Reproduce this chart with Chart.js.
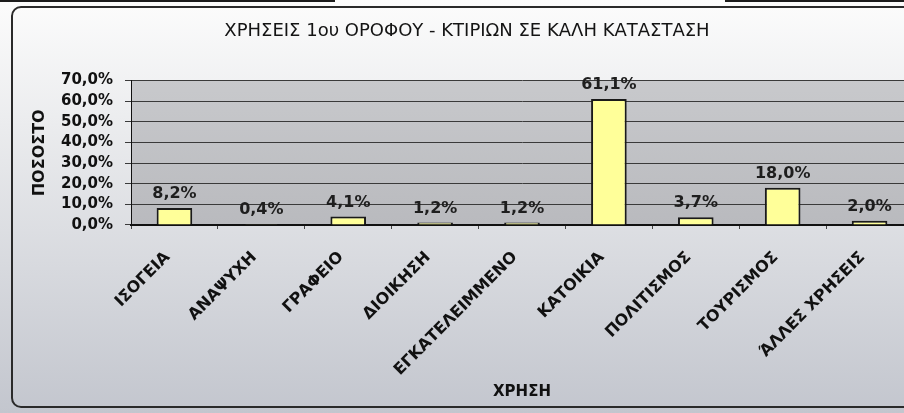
<!DOCTYPE html>
<html>
<head>
<meta charset="utf-8">
<script src="https://cdn.jsdelivr.net/npm/chart.js@4"></script>
<style>
  html, body { margin: 0; padding: 0; width: 904px; height: 413px; overflow: hidden; background: #ffffff; }
  canvas { position: absolute; left: 0; top: 0; }
</style>
</head>
<body>
<canvas id="chart" width="920" height="413"></canvas>
<script>
// Uses of the first floor in buildings in good condition
const categories = ['ΙΣΟΓΕΙΑ', 'ΑΝΑΨΥΧΗ', 'ΓΡΑΦΕΙΟ', 'ΔΙΟΙΚΗΣΗ', 'ΕΓΚΑΤΕΛΕΙΜΜΕΝΟ', 'ΚΑΤΟΙΚΙΑ', 'ΠΟΛΙΤΙΣΜΟΣ', 'ΤΟΥΡΙΣΜΟΣ', 'ΆΛΛΕΣ ΧΡΗΣΕΙΣ'];
const shares = [8.2, 0.4, 4.1, 1.2, 1.2, 61.1, 3.7, 18.0, 2.0];
const yTickValues = [0, 10, 20, 30, 40, 50, 60, 70];

const chartTitle = 'ΧΡΗΣΕΙΣ 1ου ΟΡΟΦΟΥ - ΚΤΙΡΙΩΝ ΣΕ ΚΑΛΗ ΚΑΤΑΣΤΑΣΗ';
const xTitle = 'ΧΡΗΣΗ';
const yTitle = 'ΠΟΣΟΣΤΟ';

const FONT = '"DejaVu Sans", Verdana, sans-serif';
const pctText = v => Number(v).toFixed(1).replace('.', ',') + '%';

// Page background, plot area fill and the rounded outer frame
const backdrop = {
  id: 'backdrop',
  beforeDraw(chart) {
    const { ctx, width, height, chartArea: a } = chart;
    ctx.save();
    const g = ctx.createLinearGradient(0, 0, 0, height);
    g.addColorStop(0, '#fcfcfc');
    g.addColorStop(0.3, '#ebecee');
    g.addColorStop(1, '#c3c6ce');
    ctx.fillStyle = g;
    ctx.fillRect(0, 0, width, height);

    const pg = ctx.createLinearGradient(0, a.top, 0, a.bottom);
    pg.addColorStop(0, '#c8c9cc');
    pg.addColorStop(1, '#b9babe');
    ctx.fillStyle = pg;
    ctx.fillRect(a.left, a.top, a.right - a.left, a.bottom - a.top);
    ctx.restore();
  },
  afterDraw(chart) {
    const { ctx, width, height } = chart;
    ctx.save();
    // dark rule along the very top
    ctx.strokeStyle = '#1c1c1c';
    ctx.lineWidth = 2;
    ctx.beginPath();
    ctx.moveTo(0, 1); ctx.lineTo(335, 1);
    ctx.moveTo(725, 1); ctx.lineTo(width, 1);
    ctx.stroke();

    const x0 = 12, y0 = 7, x1 = width + 20, y1 = height - 6, r = 9;
    ctx.strokeStyle = '#2a2a2a';
    ctx.lineWidth = 2;
    ctx.beginPath();
    ctx.moveTo(x1, y0);
    ctx.lineTo(x0 + r, y0);
    ctx.arcTo(x0, y0, x0, y0 + r, r);
    ctx.lineTo(x0, y1 - r);
    ctx.arcTo(x0, y1, x0 + r, y1, r);
    ctx.lineTo(x1, y1);
    ctx.stroke();
    ctx.restore();
  }
};

// Percentage written above each bar
const valueLabels = {
  id: 'valueLabels',
  afterDatasetsDraw(chart) {
    const { ctx } = chart;
    const meta = chart.getDatasetMeta(0);
    ctx.save();
    ctx.font = 'bold 16px ' + FONT;
    ctx.fillStyle = '#1e1e1e';
    ctx.textAlign = 'center';
    ctx.textBaseline = 'alphabetic';
    meta.data.forEach((bar, i) => {
      ctx.fillText(pctText(shares[i]), bar.x, bar.y - 10);
    });
    ctx.restore();
  }
};

new Chart(document.getElementById('chart'), {
  type: 'bar',
  data: {
    labels: categories,
    datasets: [{
      data: shares,
      backgroundColor: '#ffff99',
      borderColor: '#1a1a1a',
      borderWidth: 2,
      barPercentage: 0.41,
      categoryPercentage: 1
    }]
  },
  options: {
    responsive: false,
    animation: false,
    devicePixelRatio: 1,
    layout: { padding: { left: 21, right: 7, top: 0, bottom: 0 } },
    plugins: {
      legend: { display: false },
      tooltip: { enabled: false },
      title: {
        display: true,
        text: chartTitle,
        color: '#141414',
        font: { family: FONT, size: 18, weight: 'normal' },
        padding: { top: 21, bottom: 38 }
      }
    },
    scales: {
      x: {
        grid: { drawOnChartArea: false, drawTicks: true, tickLength: 4, color: '#444', offset: true },
        border: { color: '#111', width: 2 },
        ticks: {
          minRotation: 45, maxRotation: 45, autoSkip: false,
          padding: 19, labelOffset: -7,
          color: '#111',
          font: { family: FONT, size: 16, weight: 'bold' }
        },
        title: {
          display: true, text: xTitle, color: '#111',
          font: { family: FONT, size: 15, weight: 'bold' },
          padding: { top: 0, bottom: 12 }
        },
        afterFit(scale) { scale.height = 188; }
      },
      y: {
        min: 0, max: 70,
        afterBuildTicks(scale) { scale.ticks = yTickValues.map(v => ({ value: v })); },
        ticks: {
          autoSkip: false,
          callback: v => pctText(v),
          padding: 12,
          color: '#111',
          font: { family: FONT, size: 15, weight: 'bold' }
        },
        grid: { color: '#3a3a3a', lineWidth: 1, tickLength: 6 },
        border: { color: '#111', width: 1 },
        title: {
          display: true, text: yTitle, color: '#111',
          font: { family: FONT, size: 16, weight: 'bold' },
          padding: { top: 9, bottom: 0 }
        },
        afterFit(scale) { scale.width = 110; }
      }
    }
  },
  plugins: [backdrop, valueLabels]
});
</script>
</body>
</html>
